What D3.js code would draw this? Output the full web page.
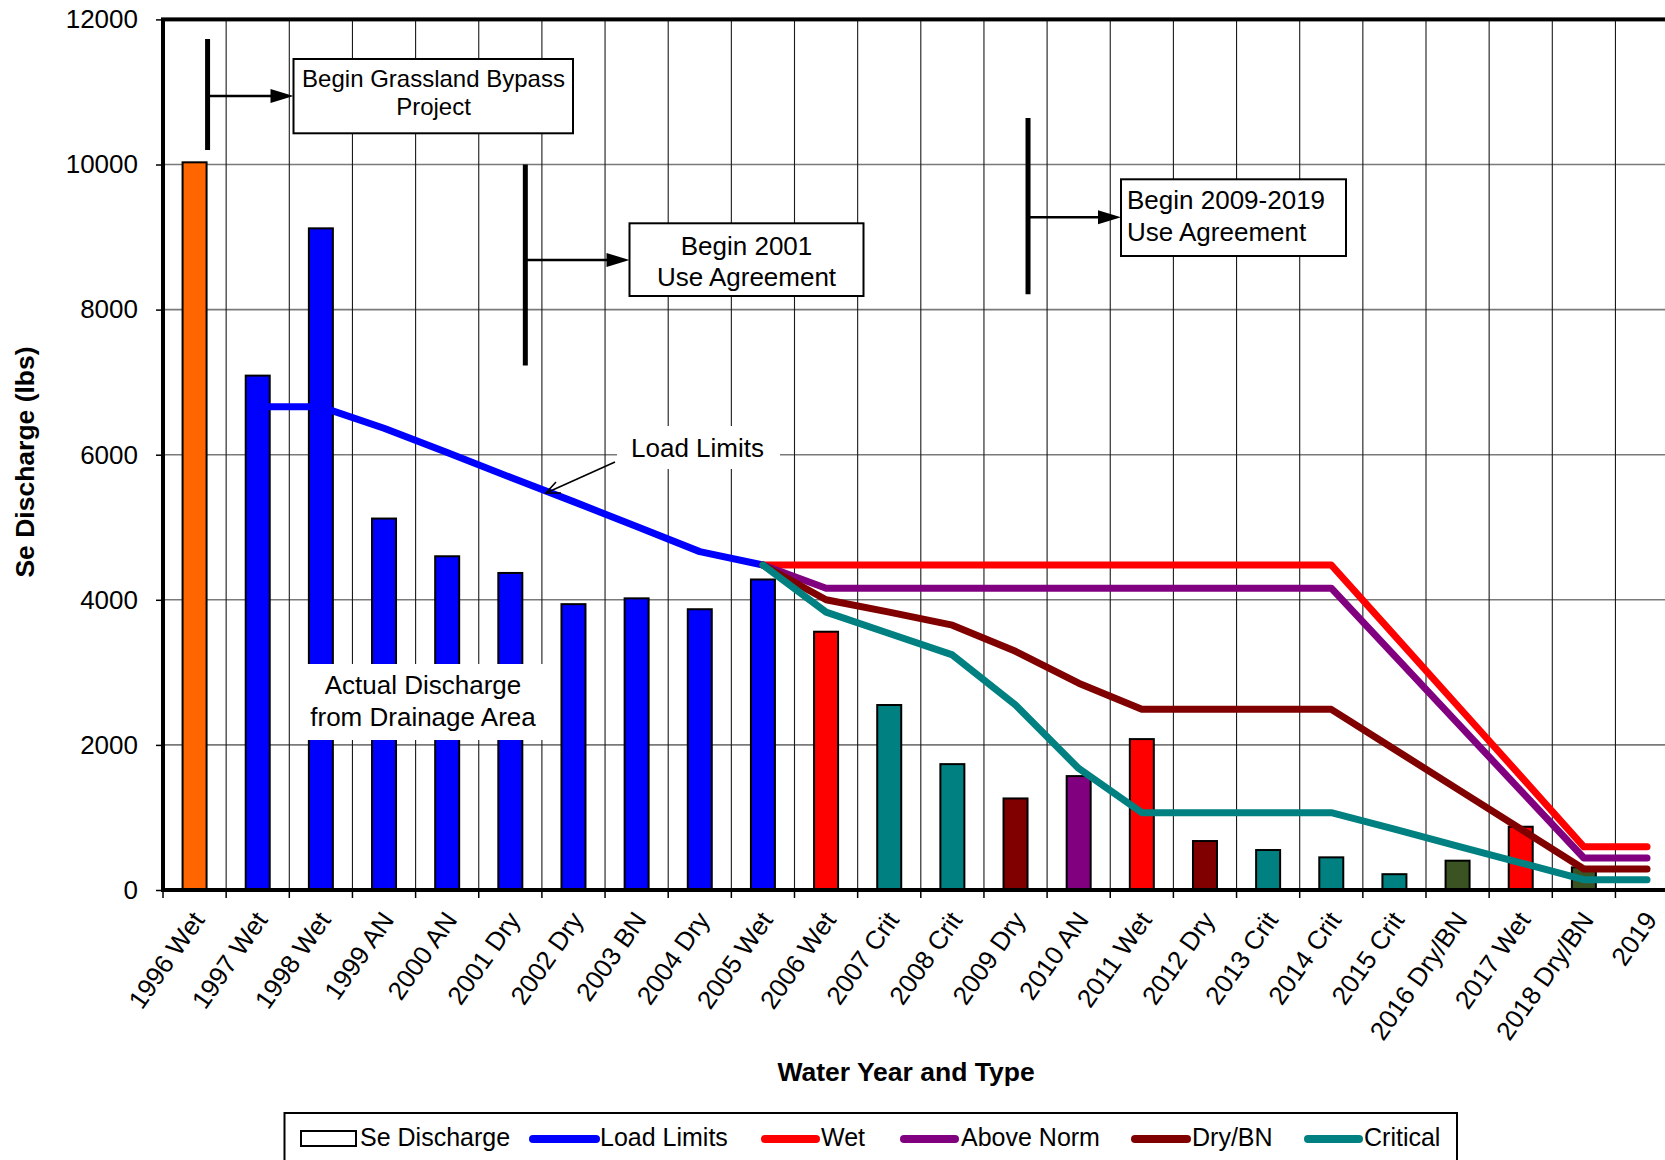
<!DOCTYPE html>
<html>
<head>
<meta charset="utf-8">
<script src="https://cdn.jsdelivr.net/npm/d3@7"></script>
<style>
  body { margin: 0; background: #fff; }
  svg text { font-family: "Liberation Sans", Arial, Helvetica, sans-serif; fill: #000; }
</style>
</head>
<body>
<svg id="chart" width="1665" height="1160"></svg>
<script>
// ---- data ----
const categories = ["1996 Wet", "1997 Wet", "1998 Wet", "1999 AN", "2000 AN", "2001 Dry",
  "2002 Dry", "2003 BN", "2004 Dry", "2005 Wet", "2006 Wet", "2007 Crit", "2008 Crit",
  "2009 Dry", "2010 AN", "2011 Wet", "2012 Dry", "2013 Crit", "2014 Crit", "2015 Crit",
  "2016 Dry/BN", "2017 Wet", "2018 Dry/BN", "2019"];

const yTicks = [0, 2000, 4000, 6000, 8000, 10000, 12000];

// Annual selenium discharge (lbs)
const discharge = [10030, 7090, 9120, 5120, 4600, 4370, 3940, 4020, 3870, 4280, 3560, 2550,
  1735, 1262, 1570, 2080, 675, 551, 450, 218, 404, 872, 312, null];

// Group that sets each bar's fill
const barGroup = ["Pre-project", "Load Period", "Load Period", "Load Period", "Load Period",
  "Load Period", "Load Period", "Load Period", "Load Period", "Load Period", "Wet", "Critical",
  "Critical", "Dry", "Above Norm", "Wet", "Dry", "Critical", "Critical", "Critical",
  "Dry/BN", "Wet", "Dry/BN", null];

// Load limit series (lbs)
const loadLimits = [null, 6660, 6660, 6365, 6029, 5689, 5353, 5009, 4664, 4480, null, null,
  null, null, null, null, null, null, null, null, null, null, null, null];
const wetLimits = [null, null, null, null, null, null, null, null, null, 4480, 4480, 4480,
  4480, 4480, 4480, 4480, 4480, 4480, 4480, 3510, 2540, 1570, 595, 595];
const aboveNormLimits = [null, null, null, null, null, null, null, null, null, 4480, 4160, 4160,
  4160, 4160, 4160, 4160, 4160, 4160, 4160, 3230, 2300, 1370, 441, 441];
const dryBNLimits = [null, null, null, null, null, null, null, null, null, 4480, 4000, 3830,
  3650, 3290, 2850, 2490, 2490, 2490, 2490, 1940, 1390, 840, 290, 290];
const criticalLimits = [null, null, null, null, null, null, null, null, null, 4480, 3830, 3535,
  3240, 2550, 1675, 1065, 1065, 1065, 1065, 840, 605, 375, 142, 142];

const legendLabels = ["Se Discharge", "Load Limits", "Wet", "Above Norm", "Dry/BN", "Critical"];

// ---- styling ----
const barColor = {
  "Pre-project": "#FF6600", "Load Period": "#0000FF", "Wet": "#FF0000",
  "Critical": "#008080", "Dry": "#800000", "Above Norm": "#800080", "Dry/BN": "#3B5323"
};
const series = [
  { name: "Load Limits", values: loadLimits, color: "#0000FF" },
  { name: "Wet", values: wetLimits, color: "#FF0000" },
  { name: "Above Norm", values: aboveNormLimits, color: "#800080" },
  { name: "Dry/BN", values: dryBNLimits, color: "#800000" },
  { name: "Critical", values: criticalLimits, color: "#008080" }
];

// ---- layout ----
const svg = d3.select("#chart");
const plot = { left: 163, top: 19.4, bottom: 890, step: 63.15 };
plot.right = plot.left + plot.step * categories.length;

const x = d3.scaleBand().domain(categories).range([plot.left, plot.right])
  .paddingInner(0.62).paddingOuter(0.31);
const xc = c => x(c) + x.bandwidth() / 2;
const y = d3.scaleLinear().domain([0, 12000]).range([plot.bottom, plot.top]);

// ---- grid ----
svg.append("g").attr("stroke", "#7a7a7a").attr("stroke-width", 1.6)
  .selectAll("line").data(yTicks.filter(v => v > 0 && v < 12000)).join("line")
  .attr("x1", plot.left).attr("x2", plot.right)
  .attr("y1", d => y(d)).attr("y2", d => y(d));
svg.append("g").attr("stroke", "#1a1a1a").attr("stroke-width", 1.1)
  .selectAll("line").data(d3.range(1, categories.length)).join("line")
  .attr("x1", i => plot.left + i * x.step()).attr("x2", i => plot.left + i * x.step())
  .attr("y1", plot.top).attr("y2", plot.bottom);

// ---- bars ----
const barData = categories.map((c, i) => ({ c, v: discharge[i], g: barGroup[i] }))
  .filter(d => d.v != null);
svg.append("g").selectAll("rect").data(barData).join("rect")
  .attr("x", d => x(d.c)).attr("width", x.bandwidth())
  .attr("y", d => y(d.v)).attr("height", d => y(0) - y(d.v))
  .attr("fill", d => barColor[d.g])
  .attr("stroke", "#000").attr("stroke-width", 2);

// ---- limit lines ----
const line = d3.line().x(d => xc(d.c)).y(d => y(d.v));
svg.append("g").selectAll("path").data(series).join("path")
  .attr("d", s => line(categories.map((c, i) => ({ c, v: s.values[i] })).filter(d => d.v != null)))
  .attr("fill", "none").attr("stroke", s => s.color).attr("stroke-width", 7)
  .attr("stroke-linejoin", "round").attr("stroke-linecap", "round");

// ---- axes ----
const yAxis = svg.append("g").attr("transform", `translate(${plot.left},0)`)
  .call(d3.axisLeft(y).tickValues(yTicks).tickSize(7).tickPadding(18).tickFormat(d3.format("d")));
yAxis.select(".domain").remove();
yAxis.selectAll(".tick line").attr("stroke", "#000").attr("stroke-width", 1.5);
yAxis.selectAll(".tick text").style("font-size", "26px");

const xAxis = svg.append("g").attr("transform", `translate(0,${plot.bottom})`)
  .call(d3.axisBottom(x).tickSize(0));
xAxis.select(".domain").remove();
xAxis.selectAll(".tick text")
  .attr("x", 0).attr("y", 0).attr("dy", null)
  .attr("text-anchor", "end")
  .attr("transform", "translate(11,30) rotate(-55)")
  .style("font-size", "26px");
svg.append("g").attr("stroke", "#000").attr("stroke-width", 1.5)
  .selectAll("line").data(d3.range(0, categories.length + 1)).join("line")
  .attr("x1", i => plot.left + i * x.step()).attr("x2", i => plot.left + i * x.step())
  .attr("y1", plot.bottom).attr("y2", plot.bottom + 8);

// plot frame
svg.append("rect").attr("x", plot.left).attr("y", plot.top)
  .attr("width", plot.right - plot.left).attr("height", plot.bottom - plot.top)
  .attr("fill", "none").attr("stroke", "#000").attr("stroke-width", 4);

// axis titles
svg.append("text").attr("x", 906).attr("y", 1074).attr("text-anchor", "middle")
  .attr("dominant-baseline", "middle").style("font-size", "26.5px").style("font-weight", "bold")
  .text("Water Year and Type");
svg.append("text").attr("transform", "translate(27,462) rotate(-90)").attr("text-anchor", "middle")
  .attr("dominant-baseline", "middle").style("font-size", "26.5px").style("font-weight", "bold")
  .text("Se Discharge (lbs)");

// ---- annotations ----
const ann = svg.append("g");
function marker(xPos, v1, v2, boxLeft, arrowY) {
  ann.append("line").attr("x1", xPos).attr("x2", xPos).attr("y1", y(v1)).attr("y2", y(v2))
    .attr("stroke", "#000").attr("stroke-width", 5);
  ann.append("line").attr("x1", xPos).attr("x2", boxLeft - 20).attr("y1", arrowY).attr("y2", arrowY)
    .attr("stroke", "#000").attr("stroke-width", 2.5);
  ann.append("path")
    .attr("d", `M${boxLeft - 23},${arrowY - 7}L${boxLeft},${arrowY}L${boxLeft - 23},${arrowY + 7}Z`)
    .attr("fill", "#000");
}
function textBox(x0, y0, x1, y1, lines, size, anchor, tx, border) {
  ann.append("rect").attr("x", x0).attr("y", y0).attr("width", x1 - x0).attr("height", y1 - y0)
    .attr("fill", "#fff").attr("stroke", border ? "#000" : "none").attr("stroke-width", 2);
  lines.forEach(l => {
    ann.append("text").attr("x", tx).attr("y", l.y).attr("text-anchor", anchor)
      .attr("dominant-baseline", "middle").style("font-size", size + "px").text(l.t);
  });
}

marker(xc("1996 Wet") + 13, 11730, 10200, 293.5, 96);
textBox(293.5, 59, 573, 133.3,
  [{ t: "Begin Grassland Bypass", y: 81 }, { t: "Project", y: 109 }], 24, "middle", 433.5, true);

marker(xc("2001 Dry") + 15, 10000, 7230, 629.5, 260);
textBox(629.5, 223.3, 863.5, 296,
  [{ t: "Begin 2001", y: 248.5 }, { t: "Use Agreement", y: 279 }], 26, "middle", 746.5, true);

marker(xc("2009 Dry") + 12.5, 10640, 8210, 1121, 217.3);
textBox(1121, 179.3, 1346, 256,
  [{ t: "Begin 2009-2019", y: 202 }, { t: "Use Agreement", y: 234 }], 26, "start", 1127, true);

textBox(617, 426, 780, 469,
  [{ t: "Load Limits", y: 450 }], 26, "middle", 697.5, false);
ann.append("line").attr("x1", 615).attr("y1", 462).attr("x2", 546).attr("y2", 493)
  .attr("stroke", "#000").attr("stroke-width", 1.6);
ann.append("path").attr("d", "M556,482L546,493L561,493")
  .attr("fill", "none").attr("stroke", "#000").attr("stroke-width", 1.6);

textBox(307, 664, 545, 740,
  [{ t: "Actual Discharge", y: 687 }, { t: "from Drainage Area", y: 719 }], 26, "middle", 423, false);

// ---- legend ----
const lg = svg.append("g");
lg.append("rect").attr("x", 284.5).attr("y", 1113).attr("width", 1172.5).attr("height", 80)
  .attr("fill", "#fff").attr("stroke", "#000").attr("stroke-width", 2);
const legendItems = [
  { label: legendLabels[0], x0: 301, x1: 356, tx: 360, type: "rect" },
  { label: legendLabels[1], x0: 529, x1: 600, tx: 600, color: series[0].color },
  { label: legendLabels[2], x0: 761, x1: 820, tx: 821, color: series[1].color },
  { label: legendLabels[3], x0: 900, x1: 959, tx: 961, color: series[2].color },
  { label: legendLabels[4], x0: 1131, x1: 1191, tx: 1192, color: series[3].color },
  { label: legendLabels[5], x0: 1304, x1: 1363, tx: 1364, color: series[4].color }
];
legendItems.forEach(it => {
  if (it.type === "rect") {
    lg.append("rect").attr("x", it.x0).attr("y", 1131).attr("width", it.x1 - it.x0).attr("height", 15)
      .attr("fill", "#fff").attr("stroke", "#000").attr("stroke-width", 2);
  } else {
    lg.append("line").attr("x1", it.x0 + 4).attr("x2", it.x1 - 4).attr("y1", 1139).attr("y2", 1139)
      .attr("stroke", it.color).attr("stroke-width", 8).attr("stroke-linecap", "round");
  }
  lg.append("text").attr("x", it.tx).attr("y", 1139).attr("dominant-baseline", "middle")
    .style("font-size", "25px").text(it.label);
});
</script>
</body>
</html>
